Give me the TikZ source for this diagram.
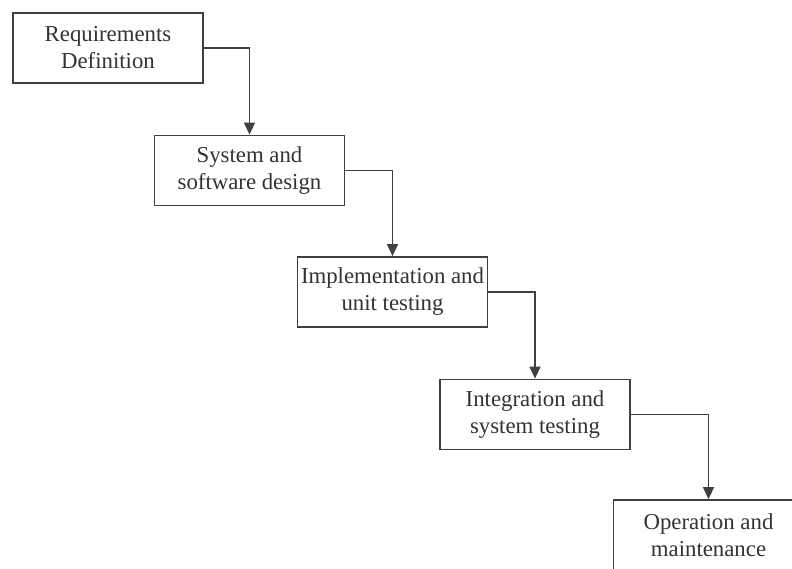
\documentclass[tikz,border=0pt]{standalone}
\usepackage{fontspec}
\setmainfont{Liberation Serif}
\usetikzlibrary{arrows.meta}
\begin{document}
\begin{tikzpicture}[x=1pt,y=-1pt,
  stage/.style={draw=black!75,line width=1.8pt,fill=white,minimum width=190pt,minimum height=70pt,
    align=center,inner sep=0pt,text=black!80,font=\fontsize{22.8}{27}\selectfont},
  flow/.style={draw=black!75,line width=1.5pt,-{Triangle[length=12pt,width=11pt]}}]
\path[use as bounding box] (0,0) rectangle (792,568);
\begin{scope}
\clip (0,0) rectangle (792,568);
\node[stage] (a) at (108,48) {Requirements\\Definition};
\node[stage] (b) at (249.5,170.5) {System and\\software design};
\node[stage] (c) at (392.5,292) {Implementation and\\unit testing};
\node[stage] (d) at (535,414.5) {Integration and\\system testing};
\node[stage] (e) at (708.5,535) {Operation and\\maintenance};
\draw[flow] (a.east) -| (b.north);
\draw[flow] (b.east) -| (c.north);
\draw[flow] (c.east) -| (d.north);
\draw[flow] (d.east) -| (e.north);
\end{scope}
\end{tikzpicture}
\end{document}
